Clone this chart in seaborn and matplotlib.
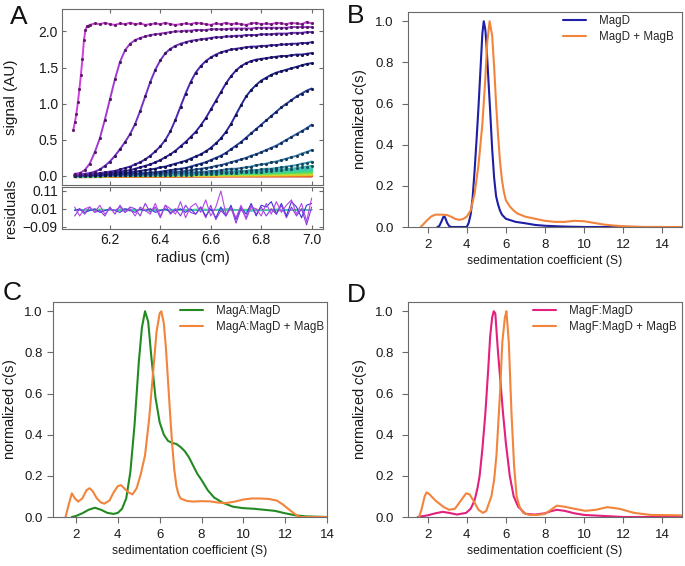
import numpy as np
import pandas as pd
import matplotlib
matplotlib.use('Agg')
import matplotlib.pyplot as plt
import matplotlib.colors as mcolors
import seaborn as sns

# ---------------- panel A: sedimentation velocity scans ----------------
radius = [6.06, 6.08, 6.10, 6.12, 6.14, 6.16, 6.18, 6.20, 6.22, 6.24,
          6.26, 6.28, 6.30, 6.32, 6.34, 6.36, 6.38, 6.40, 6.42, 6.44,
          6.46, 6.48, 6.50, 6.52, 6.54, 6.56, 6.58, 6.60, 6.62, 6.64,
          6.66, 6.68, 6.70, 6.72, 6.74, 6.76, 6.78, 6.80, 6.82, 6.84,
          6.86, 6.88, 6.90, 6.92, 6.94, 6.96, 6.98, 7.00]

# first scan rises before the regular grid starts
scan1_rise_r = [6.055, 6.061, 6.067, 6.073, 6.079, 6.085, 6.091, 6.097, 6.103, 6.109, 6.115]
scan1_rise = [0.64, 0.74, 0.86, 1.02, 1.20, 1.40, 1.62, 1.88, 2.02, 2.07, 2.08]
scan1_plateau = [2.09, 2.11, 2.10, 2.12, 2.10, 2.09, 2.11, 2.10, 2.12, 2.10,
                 2.11, 2.09, 2.10, 2.11, 2.10, 2.12, 2.10, 2.09, 2.10, 2.11,
                 2.10, 2.12, 2.11, 2.10, 2.09, 2.11, 2.10, 2.12, 2.10, 2.11,
                 2.10, 2.09, 2.11, 2.12, 2.10, 2.11, 2.10, 2.12, 2.11, 2.10,
                 2.12, 2.11, 2.10, 2.13, 2.11]
scan2 = [0.03, 0.04, 0.08, 0.17, 0.33, 0.52, 0.78, 1.06, 1.34, 1.58,
         1.74, 1.83, 1.88, 1.91, 1.93, 1.95, 1.96, 1.97, 1.98, 1.99,
         2.00, 2.00, 2.01, 2.01, 2.02, 2.02, 2.02, 2.03, 2.03, 2.03,
         2.03, 2.04, 2.04, 2.04, 2.04, 2.04, 2.05, 2.05, 2.05, 2.05,
         2.05, 2.05, 2.05, 2.06, 2.06, 2.06, 2.06, 2.06]
scan3 = [0.02, 0.02, 0.03, 0.04, 0.06, 0.09, 0.14, 0.20, 0.28, 0.37,
         0.47, 0.58, 0.72, 0.90, 1.10, 1.30, 1.47, 1.60, 1.70, 1.76,
         1.80, 1.83, 1.85, 1.87, 1.88, 1.89, 1.90, 1.91, 1.92, 1.92,
         1.93, 1.93, 1.94, 1.94, 1.95, 1.95, 1.95, 1.96, 1.96, 1.96,
         1.97, 1.97, 1.97, 1.98, 1.98, 1.98, 1.99, 1.99]
scan4 = [0.01, 0.01, 0.02, 0.02, 0.03, 0.04, 0.05, 0.06, 0.07, 0.09,
         0.11, 0.13, 0.16, 0.19, 0.23, 0.28, 0.34, 0.41, 0.50, 0.62,
         0.78, 0.96, 1.14, 1.30, 1.43, 1.52, 1.59, 1.64, 1.68, 1.71,
         1.73, 1.75, 1.76, 1.77, 1.78, 1.79, 1.79, 1.80, 1.80, 1.81,
         1.81, 1.82, 1.82, 1.83, 1.83, 1.84, 1.84, 1.85]
scan5 = [0.01, 0.01, 0.01, 0.02, 0.02, 0.03, 0.03, 0.04, 0.05, 0.06,
         0.07, 0.08, 0.10, 0.12, 0.14, 0.16, 0.19, 0.22, 0.26, 0.30,
         0.35, 0.41, 0.47, 0.54, 0.61, 0.70, 0.80, 0.92, 1.04, 1.16,
         1.28, 1.38, 1.46, 1.52, 1.56, 1.59, 1.61, 1.62, 1.63, 1.64,
         1.65, 1.66, 1.66, 1.67, 1.68, 1.68, 1.69, 1.70]
scan6 = [0.01, 0.01, 0.01, 0.01, 0.02, 0.02, 0.02, 0.03, 0.03, 0.04,
         0.04, 0.05, 0.06, 0.07, 0.08, 0.09, 0.10, 0.12, 0.13, 0.15,
         0.17, 0.19, 0.21, 0.24, 0.27, 0.30, 0.34, 0.39, 0.45, 0.52,
         0.61, 0.72, 0.85, 0.98, 1.10, 1.19, 1.26, 1.32, 1.36, 1.40,
         1.43, 1.45, 1.47, 1.49, 1.51, 1.53, 1.55, 1.56]
scan7 = [0.01, 0.01, 0.01, 0.01, 0.01, 0.01, 0.02, 0.02, 0.02, 0.02,
         0.03, 0.03, 0.03, 0.04, 0.04, 0.05, 0.05, 0.06, 0.07, 0.08,
         0.09, 0.10, 0.11, 0.13, 0.15, 0.17, 0.19, 0.22, 0.25, 0.28,
         0.32, 0.37, 0.42, 0.47, 0.53, 0.59, 0.65, 0.71, 0.77, 0.83,
         0.89, 0.95, 1.00, 1.05, 1.10, 1.14, 1.18, 1.21]
scan8 = [0.00, 0.01, 0.01, 0.01, 0.01, 0.01, 0.01, 0.01, 0.01, 0.02,
         0.02, 0.02, 0.02, 0.03, 0.03, 0.03, 0.04, 0.04, 0.05, 0.05,
         0.06, 0.06, 0.07, 0.08, 0.09, 0.10, 0.11, 0.12, 0.14, 0.15,
         0.17, 0.19, 0.21, 0.23, 0.25, 0.28, 0.30, 0.33, 0.36, 0.39,
         0.42, 0.46, 0.50, 0.54, 0.58, 0.62, 0.66, 0.71]
scan9 = [0.00, 0.00, 0.01, 0.01, 0.01, 0.01, 0.01, 0.01, 0.01, 0.01,
         0.01, 0.02, 0.02, 0.02, 0.02, 0.02, 0.03, 0.03, 0.03, 0.03,
         0.04, 0.04, 0.04, 0.05, 0.05, 0.06, 0.06, 0.07, 0.07, 0.08,
         0.09, 0.10, 0.10, 0.11, 0.12, 0.13, 0.15, 0.16, 0.17, 0.19,
         0.20, 0.22, 0.24, 0.26, 0.28, 0.31, 0.33, 0.36]
scan10 = [0.00, 0.00, 0.00, 0.00, 0.01, 0.01, 0.01, 0.01, 0.01, 0.01,
          0.01, 0.01, 0.01, 0.01, 0.02, 0.02, 0.02, 0.02, 0.02, 0.02,
          0.03, 0.03, 0.03, 0.03, 0.03, 0.04, 0.04, 0.04, 0.05, 0.05,
          0.05, 0.06, 0.06, 0.07, 0.07, 0.08, 0.08, 0.09, 0.10, 0.10,
          0.11, 0.12, 0.13, 0.14, 0.15, 0.17, 0.18, 0.20]
scan11 = [0.00, 0.00, 0.00, 0.00, 0.00, 0.00, 0.01, 0.01, 0.01, 0.01,
          0.01, 0.01, 0.01, 0.01, 0.01, 0.01, 0.01, 0.02, 0.02, 0.02,
          0.02, 0.02, 0.02, 0.02, 0.03, 0.03, 0.03, 0.03, 0.03, 0.04,
          0.04, 0.04, 0.04, 0.05, 0.05, 0.05, 0.06, 0.06, 0.07, 0.07,
          0.08, 0.08, 0.09, 0.10, 0.11, 0.12, 0.13, 0.14]

# late scans, almost flat near the meniscus
late_radius = [6.06, 6.30, 6.55, 6.80, 7.00]
late1 = [0.00, 0.02, 0.04, 0.07, 0.10]
late2 = [0.00, 0.02, 0.03, 0.05, 0.085]
late3 = [0.00, 0.01, 0.03, 0.04, 0.07]
late4 = [0.00, 0.01, 0.02, 0.04, 0.055]
late5 = [0.00, 0.01, 0.02, 0.03, 0.04]
late6 = [0.00, 0.01, 0.01, 0.02, 0.03]
late7 = [0.00, 0.00, 0.01, 0.01, 0.02]
late8 = [-0.005, 0.00, 0.00, 0.01, 0.01]
late9 = [-0.01, -0.005, 0.00, 0.00, 0.00]

scan_colors = ['#d23ee0', '#a23ad2', '#7430c8', '#4a28b4', '#3224a6', '#25289c',
               '#2640a2', '#2c60ac', '#3480b4', '#389eba', '#3cb8c0']
late_colors = ['#3cc8b4', '#40d29a', '#48da78', '#6ade50', '#a6e03c', '#d8d830',
               '#f0b020', '#f07820', '#c8301a']

# residuals (same radius grid)
resid_violet = [0.02, -0.03, 0.01, 0.02, -0.01, 0.03, -0.02, 0.01, 0.00, 0.02,
                -0.01, 0.01, -0.03, 0.02, 0.00, -0.02, 0.04, -0.03, 0.03, 0.01,
                -0.02, 0.05, -0.04, 0.02, 0.04, -0.01, 0.06, -0.03, 0.02, 0.11,
                -0.02, 0.01, -0.04, 0.03, -0.05, 0.02, 0.01, -0.03, 0.04, -0.02,
                0.05, -0.01, 0.03, 0.06, -0.02, 0.04, -0.06, 0.07]
resid_purple = [-0.03, 0.01, -0.02, 0.02, -0.01, 0.00, -0.03, 0.02, -0.02, 0.03,
                -0.01, 0.02, 0.01, -0.03, 0.04, -0.01, 0.02, -0.04, 0.03, -0.02,
                0.01, -0.03, 0.03, -0.01, -0.02, 0.02, -0.04, 0.03, -0.05, 0.00,
                -0.03, 0.02, -0.07, 0.01, -0.04, 0.03, -0.02, 0.02, -0.03, 0.01,
                -0.02, 0.03, -0.04, 0.02, -0.03, 0.01, -0.08, 0.02]
resid_blue = [0.00, 0.01, -0.01, 0.00, 0.01, -0.01, 0.00, 0.01, 0.00, -0.01,
              0.01, 0.00, -0.01, 0.01, 0.00, 0.01, -0.01, 0.00, 0.01, -0.01,
              0.00, 0.01, -0.01, 0.01, -0.02, 0.02, -0.03, 0.01, -0.04, 0.02,
              -0.03, 0.03, -0.05, 0.02, -0.02, 0.04, -0.03, 0.03, 0.02, 0.05,
              -0.02, 0.04, -0.03, 0.05, 0.02, -0.04, 0.03, 0.04]
calm_radius = [6.06, 6.16, 6.26, 6.36, 6.46, 6.56, 6.66, 6.76, 6.86, 6.96, 7.00]
resid_cyan = [0.006, 0.0, 0.008, -0.002, 0.007, 0.0, 0.009, -0.003, 0.006, 0.002, 0.004]
resid_green = [0.003, 0.007, -0.001, 0.006, 0.001, 0.008, 0.0, 0.006, -0.002, 0.007, 0.003]
resid_yellow = [0.005, 0.002, 0.007, 0.001, 0.006, 0.003, 0.007, 0.002, 0.008, 0.001, 0.005]
resid_orange = [0.004, 0.006, 0.002, 0.007, 0.003, 0.006, 0.002, 0.007, 0.003, 0.006, 0.004]
resid_red = [0.005, 0.003, 0.006, 0.004, 0.005, 0.003, 0.006, 0.004, 0.005, 0.004, 0.005]

# ---------------- panel B ----------------
b_magd_s = [2.5, 2.6, 2.7, 2.8, 2.85, 2.9, 3.0, 3.1, 3.2, 4.0, 4.1, 4.2, 4.3, 4.4,
            4.5, 4.6, 4.7, 4.8, 4.87, 4.95, 5.0, 5.1, 5.2, 5.3, 5.4, 5.5, 5.6,
            5.7, 5.8, 6.0, 6.5, 7.0, 7.5, 8.0, 9.0, 10.0, 14.0]
b_magd_c = [0.0, 0.005, 0.025, 0.048, 0.052, 0.045, 0.02, 0.005, 0.0, 0.0, 0.02,
            0.06, 0.14, 0.27, 0.42, 0.58, 0.76, 0.94, 1.0, 0.96, 0.9, 0.73, 0.56,
            0.38, 0.24, 0.15, 0.11, 0.08, 0.06, 0.04, 0.025, 0.018, 0.01, 0.006,
            0.002, 0.0, 0.0]
b_magb_s = [1.65, 1.8, 2.0, 2.2, 2.4, 2.6, 2.8, 3.0, 3.2, 3.4, 3.6, 3.8, 4.0, 4.2,
            4.4, 4.6, 4.8, 4.95, 5.05, 5.17, 5.3, 5.4, 5.5, 5.6, 5.7, 5.8, 5.9,
            6.0, 6.2, 6.4, 6.6, 7.0, 7.5, 8.0, 8.5, 9.0, 9.5, 10.0, 10.5, 11.0,
            11.5, 12.0, 12.5, 13.0, 15.0]
b_magb_c = [0.0, 0.015, 0.035, 0.052, 0.06, 0.06, 0.06, 0.058, 0.05, 0.04, 0.035,
            0.038, 0.05, 0.08, 0.16, 0.30, 0.50, 0.72, 0.90, 1.0, 0.93, 0.78, 0.60,
            0.45, 0.32, 0.23, 0.17, 0.13, 0.10, 0.08, 0.065, 0.05, 0.04, 0.03,
            0.025, 0.025, 0.03, 0.028, 0.02, 0.012, 0.007, 0.004, 0.002, 0.0, 0.0]

# ---------------- panel C ----------------
c_maga_s = [1.8, 2.0, 2.3, 2.6, 2.9, 3.2, 3.5, 3.8, 4.0, 4.2, 4.4, 4.6, 4.8, 5.0,
            5.15, 5.3, 5.45, 5.6, 5.8, 6.0, 6.2, 6.4, 6.6, 6.8, 7.0, 7.2, 7.4,
            7.6, 7.8, 8.0, 8.3, 8.6, 9.0, 9.5, 10.0, 10.5, 11.0, 11.5, 12.0,
            12.5, 13.0, 14.0]
c_maga_c = [0.0, 0.005, 0.018, 0.035, 0.045, 0.035, 0.02, 0.015, 0.02, 0.04, 0.09,
            0.22, 0.45, 0.75, 0.92, 1.0, 0.95, 0.78, 0.58, 0.46, 0.40, 0.37, 0.36,
            0.355, 0.34, 0.32, 0.29, 0.25, 0.21, 0.18, 0.13, 0.095, 0.07, 0.05,
            0.043, 0.04, 0.035, 0.03, 0.018, 0.008, 0.003, 0.0]
c_magb_s = [1.5, 1.65, 1.8, 1.95, 2.1, 2.3, 2.5, 2.65, 2.8, 3.0, 3.2, 3.35, 3.6,
            3.8, 4.0, 4.15, 4.3, 4.5, 4.7, 4.9, 5.1, 5.3, 5.5, 5.7, 5.85, 6.0,
            6.08, 6.2, 6.3, 6.4, 6.5, 6.6, 6.7, 6.8, 6.9, 7.0, 7.3, 7.6, 8.0,
            8.4, 8.8, 9.2, 9.6, 10.0, 10.4, 10.8, 11.2, 11.6, 11.9, 12.2, 12.5,
            12.7, 14.0]
c_magb_c = [0.0, 0.06, 0.115, 0.09, 0.075, 0.09, 0.13, 0.14, 0.125, 0.09, 0.07,
            0.065, 0.08, 0.12, 0.15, 0.155, 0.14, 0.12, 0.11, 0.14, 0.21, 0.30,
            0.48, 0.72, 0.90, 0.99, 1.0, 0.94, 0.82, 0.66, 0.50, 0.35, 0.23, 0.15,
            0.11, 0.09, 0.078, 0.075, 0.077, 0.076, 0.07, 0.068, 0.075, 0.085,
            0.09, 0.09, 0.088, 0.08, 0.06, 0.035, 0.012, 0.0, 0.0]

# ---------------- panel D ----------------
d_magf_s = [1.5, 2.0, 2.4, 2.77, 3.1, 3.5, 3.97, 4.2, 4.4, 4.55, 4.66, 4.8, 4.95,
            5.1, 5.2, 5.3, 5.38, 5.46, 5.6, 5.73, 5.86, 6.0, 6.2, 6.4, 6.63, 7.0,
            7.5, 8.0, 8.3, 8.6, 9.0, 9.5, 10.0, 11.0, 12.0, 15.0]
d_magf_c = [0.0, 0.008, 0.018, 0.025, 0.02, 0.012, 0.02, 0.04, 0.08, 0.14, 0.2,
            0.33, 0.5, 0.72, 0.88, 0.97, 1.0, 0.99, 0.8, 0.65, 0.5, 0.36, 0.2, 0.1,
            0.05, 0.015, 0.012, 0.018, 0.028, 0.035, 0.03, 0.018, 0.01, 0.005, 0.0,
            0.0]
d_magb_s = [1.57, 1.7, 1.85, 1.95, 2.1, 2.4, 2.8, 3.1, 3.4, 3.7, 3.97, 4.15, 4.4,
            4.6, 4.83, 5.0, 5.26, 5.4, 5.52, 5.7, 5.82, 5.95, 6.03, 6.15, 6.29,
            6.42, 6.55, 6.7, 6.89, 7.2, 7.6, 8.0, 8.3, 8.6, 9.0, 9.5, 10.06,
            10.6, 11.18, 11.8, 12.55, 13.4, 14.95]
d_magb_c = [0.0, 0.04, 0.1, 0.12, 0.11, 0.08, 0.05, 0.035, 0.04, 0.08, 0.115, 0.11,
            0.07, 0.035, 0.02, 0.03, 0.1, 0.18, 0.3, 0.6, 0.85, 0.97, 1.0, 0.85,
            0.5, 0.25, 0.1, 0.05, 0.02, 0.01, 0.01, 0.015, 0.035, 0.055, 0.05,
            0.04, 0.03, 0.035, 0.048, 0.04, 0.02, 0.01, 0.008]

# ---------------- styling ----------------
sns.set_style('ticks')
plt.rcParams['font.family'] = ['Liberation Sans', 'DejaVu Sans']
plt.rcParams['mathtext.fontset'] = 'custom'
plt.rcParams['mathtext.rm'] = 'Liberation Sans'
plt.rcParams['mathtext.it'] = 'Liberation Sans:italic'
spine_col = '#6a6a6a'
text_col = '#1a1a1a'

W, H = 685, 566
fig = plt.figure(figsize=(W / 100, H / 100), dpi=100)


def box(l, t, r, b):
    # pixel box -> figure fraction
    return [l / W, 1 - b / H, (r - l) / W, (b - t) / H]


def style_spines(ax):
    for sp in ax.spines.values():
        sp.set_visible(True)
        sp.set_color(spine_col)
        sp.set_linewidth(0.8)


def darker(col, k=0.45):
    r, g, b = mcolors.to_rgb(col)
    return (r * k, g * k, b * k)


# ---- A main
axA = fig.add_axes(box(62, 9, 323, 185))
scans = [scan2, scan3, scan4, scan5, scan6, scan7, scan8, scan9, scan10, scan11]
lates = [late1, late2, late3, late4, late5, late6, late7, late8, late9]

for vals, col in zip(lates[::-1], late_colors[::-1]):
    sns.lineplot(x=late_radius, y=vals, ax=axA, color=col, lw=2.2, estimator=None)
for vals, col in zip(scans[::-1], scan_colors[1:][::-1]):
    sns.lineplot(x=radius, y=vals, ax=axA, color=col, lw=1.4, estimator=None)
    sns.scatterplot(x=radius, y=vals, ax=axA, color=darker(col), s=5, linewidth=0, zorder=3)
scan1_r = scan1_rise_r + radius[3:]
scan1 = scan1_rise + scan1_plateau
sns.lineplot(x=scan1_r, y=scan1, ax=axA, color=scan_colors[0], lw=1.4, estimator=None)
sns.scatterplot(x=scan1_r, y=scan1, ax=axA, color=darker(scan_colors[0]), s=5, linewidth=0, zorder=3)

axA.set_xlim(6.01, 7.045)
axA.set_ylim(-0.125, 2.31)
axA.set_xticks([6.2, 6.4, 6.6, 6.8, 7.0], [])
axA.set_yticks([0.0, 0.5, 1.0, 1.5, 2.0], ['0.0', '0.5', '1.0', '1.5', '2.0'])
axA.set_ylabel('signal (AU)', fontsize=11, color=text_col)
style_spines(axA)
axA.tick_params(direction='in', length=3, width=0.8, color=spine_col, labelsize=10,
                labelcolor=text_col, pad=3, top=True, right=True)

# ---- A residuals
axR = fig.add_axes(box(62, 187, 323, 229))
for vals, col in [(resid_red, '#c8301a'), (resid_orange, '#f07820'), (resid_yellow, '#d8d830'),
                  (resid_green, '#48da78'), (resid_cyan, '#3cc8c4')]:
    sns.lineplot(x=calm_radius, y=vals, ax=axR, color=col, lw=1.0, estimator=None)
sns.lineplot(x=radius, y=resid_blue, ax=axR, color='#3a32d8', lw=0.8, estimator=None)
sns.lineplot(x=radius, y=resid_purple, ax=axR, color='#8a3ae0', lw=0.8, estimator=None)
sns.lineplot(x=radius, y=resid_violet, ax=axR, color='#b447e6', lw=0.8, estimator=None)
axR.set_xlim(6.01, 7.045)
axR.set_ylim(-0.103, 0.132)
axR.set_xticks([6.2, 6.4, 6.6, 6.8, 7.0], ['6.2', '6.4', '6.6', '6.8', '7.0'])
axR.set_yticks([-0.09, 0.01, 0.11], ['\u22120.09', '0.01', '0.11'])
axR.set_xlabel('radius (cm)', fontsize=10.5, color=text_col, labelpad=3)
axR.set_ylabel('residuals', fontsize=10.5, color=text_col)
style_spines(axR)
axR.tick_params(direction='in', length=3, width=0.8, color=spine_col, labelsize=10,
                labelcolor=text_col, pad=3, top=True, right=True)
axA.yaxis.set_label_coords(-0.17, 0.5)
axR.yaxis.set_label_coords(-0.17, 0.5)


def cs_panel(rect, series, xlim, leg_x, ypad):
    ax = fig.add_axes(rect)
    for s, c, col, lab in series:
        sns.lineplot(x=s, y=c, ax=ax, color=col, lw=1.5, label=lab, estimator=None)
    ax.set_xlim(*xlim)
    ax.set_ylim(0, 1.045)
    ax.set_xticks([2, 4, 6, 8, 10, 12, 14], ['2', '4', '6', '8', '10', '12', '14'],
                  fontsize=9.5, color=text_col)
    ax.set_yticks([0.0, 0.2, 0.4, 0.6, 0.8, 1.0], ['0.0', '0.2', '0.4', '0.6', '0.8', '1.0'],
                  fontsize=9.5, color=text_col)
    ax.set_xlabel('sedimentation coefficient (S)', fontsize=8.8, color=text_col, labelpad=3)
    ax.set_ylabel('normalized $c$(s)', fontsize=10.5, color=text_col, labelpad=4)
    style_spines(ax)
    ax.tick_params(axis='both', direction='out', length=4.5, width=0.8, color=spine_col)
    ax.tick_params(axis='x', pad=4)
    ax.tick_params(axis='y', pad=ypad)
    ax.legend(loc='upper left', bbox_to_anchor=(leg_x, 0.985), frameon=False,
              fontsize=8.3, handlelength=2.0, handletextpad=1.1,
              labelspacing=0.35, borderaxespad=0, borderpad=0)
    return ax


blue = '#1e1ea6'
orange = '#f2843c'
cs_panel(box(408, 12, 682, 227),
         [(b_magd_s, b_magd_c, blue, 'MagD'), (b_magb_s, b_magb_c, orange, 'MagD + MagB')],
         (1, 15), 0.566, 6)
cs_panel(box(53, 302, 327, 517),
         [(c_maga_s, c_maga_c, '#238a23', 'MagA:MagD'), (c_magb_s, c_magb_c, orange, 'MagA:MagD + MagB')],
         (0.9, 14), 0.464, 3)
cs_panel(box(408, 302, 682, 517),
         [(d_magf_s, d_magf_c, '#e2207e', 'MagF:MagD'), (d_magb_s, d_magb_c, orange, 'MagF:MagD + MagB')],
         (1, 15), 0.456, 6)

for lab, x, y in [('A', 10, 5), ('B', 347, 4), ('C', 3, 281), ('D', 347, 283)]:
    fig.text(x / W, 1 - y / H, lab, fontsize=19, ha='left', va='top', color='#111111')

fig.savefig('out.png', dpi=100)
